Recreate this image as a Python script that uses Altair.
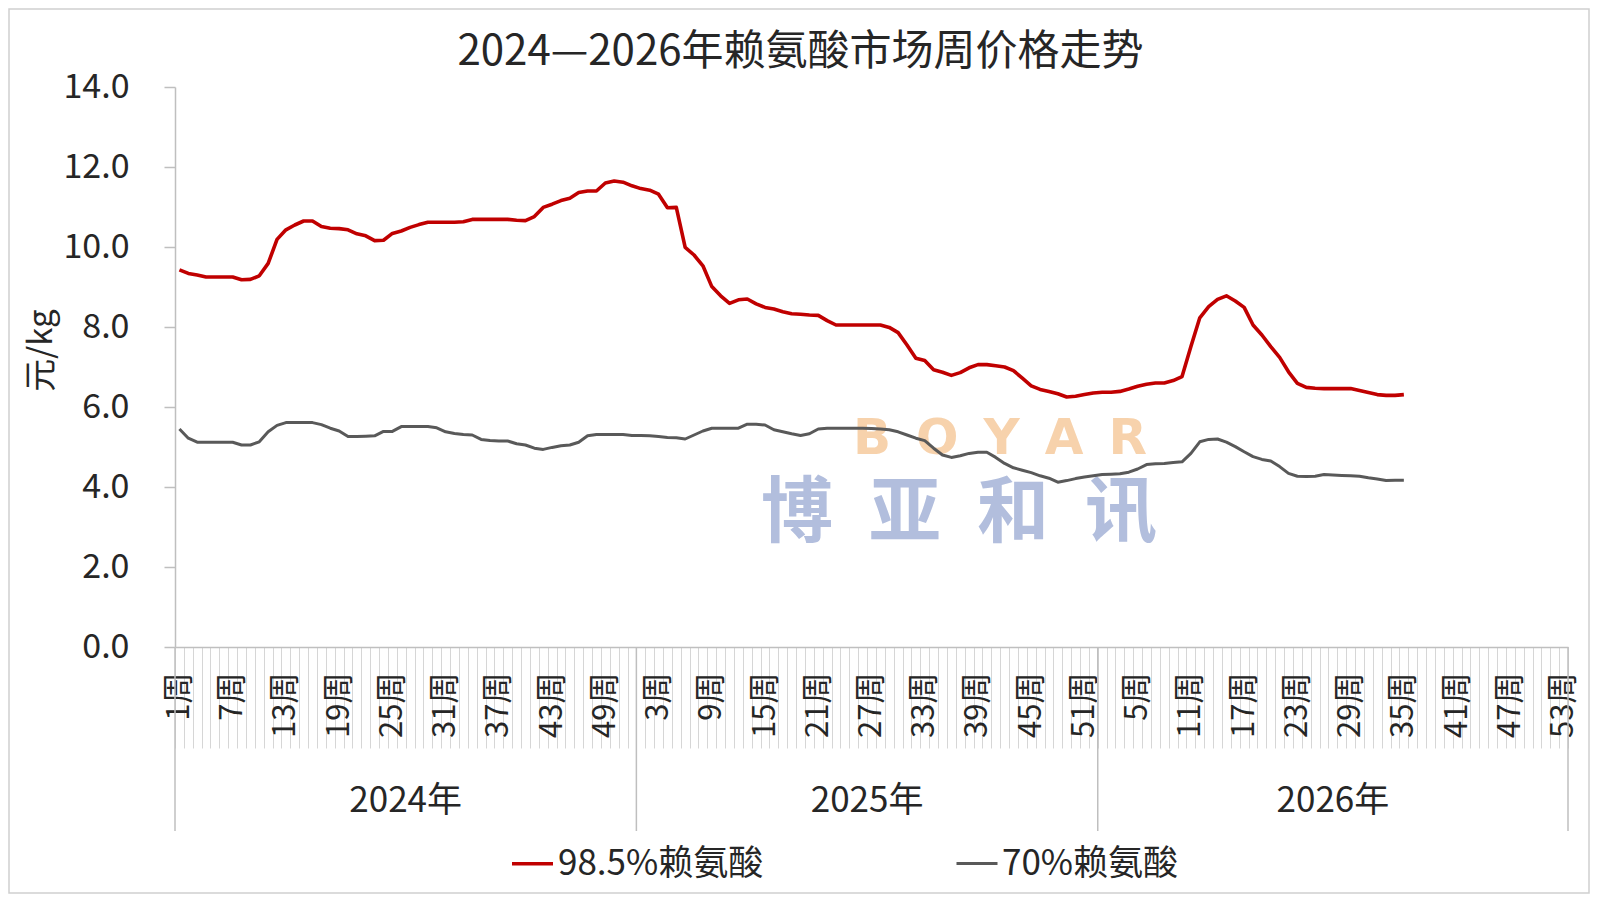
import altair as alt
import pandas as pd

FONT = "Noto Sans CJK SC"
TXT = "#262626"

title_text = "2024—2026年赖氨酸市场周价格走势"
years = ["2024年", "2025年", "2026年"]
weeks_per_year = [52, 52, 53]
series_names = ["98.5%赖氨酸", "70%赖氨酸"]
series_colors = ["#C00000", "#595959"]
y_ticks = [0, 2, 4, 6, 8, 10, 12, 14]

lys985 = [
    9.43, 9.34, 9.30, 9.25, 9.25, 9.25, 9.25, 9.18, 9.19, 9.28,
    9.59, 10.19, 10.43, 10.55, 10.65, 10.65, 10.51, 10.47, 10.46, 10.43,
    10.33, 10.28, 10.16, 10.17, 10.34, 10.40, 10.49, 10.56, 10.62, 10.62,
    10.62, 10.62, 10.63, 10.69, 10.69, 10.69, 10.69, 10.69, 10.67, 10.66,
    10.76, 10.99, 11.07, 11.16, 11.22, 11.36, 11.40, 11.40, 11.60, 11.65,
    11.62, 11.53, 11.46, 11.42, 11.32, 10.98, 10.99, 9.99, 9.80, 9.53,
    9.01, 8.78, 8.59, 8.68, 8.70, 8.58, 8.49, 8.45, 8.38, 8.33,
    8.32, 8.30, 8.29, 8.16, 8.05, 8.05, 8.05, 8.05, 8.05, 8.05,
    7.99, 7.86, 7.55, 7.22, 7.16, 6.93, 6.87, 6.79, 6.86, 6.98,
    7.06, 7.06, 7.03, 7.00, 6.91, 6.72, 6.53, 6.44, 6.39, 6.33,
    6.25, 6.27, 6.31, 6.35, 6.37, 6.37, 6.39, 6.45, 6.52, 6.57,
    6.60, 6.60, 6.66, 6.76, 7.51, 8.23, 8.51, 8.69, 8.78, 8.65,
    8.49, 8.05, 7.80, 7.51, 7.24, 6.88, 6.59, 6.49, 6.47, 6.46,
    6.46, 6.46, 6.46, 6.41, 6.36, 6.31, 6.29, 6.29, 6.31,
]

lys70 = [
    5.45, 5.22, 5.12, 5.12, 5.12, 5.12, 5.12, 5.05, 5.05, 5.13,
    5.38, 5.54, 5.61, 5.61, 5.61, 5.61, 5.56, 5.47, 5.40, 5.26,
    5.26, 5.27, 5.28, 5.39, 5.39, 5.51, 5.51, 5.51, 5.51, 5.48,
    5.38, 5.34, 5.31, 5.30, 5.19, 5.16, 5.15, 5.15, 5.08, 5.05,
    4.97, 4.94, 4.99, 5.03, 5.05, 5.12, 5.28, 5.31, 5.31, 5.31,
    5.31, 5.29, 5.29, 5.28, 5.26, 5.24, 5.23, 5.20, 5.30, 5.40,
    5.47, 5.47, 5.47, 5.47, 5.57, 5.57, 5.55, 5.43, 5.38, 5.33,
    5.29, 5.33, 5.45, 5.47, 5.47, 5.47, 5.47, 5.47, 5.46, 5.45,
    5.43, 5.38, 5.30, 5.22, 5.16, 4.97, 4.80, 4.74, 4.78, 4.84,
    4.87, 4.87, 4.74, 4.59, 4.48, 4.42, 4.36, 4.28, 4.22, 4.12,
    4.16, 4.21, 4.25, 4.28, 4.31, 4.32, 4.33, 4.37, 4.45, 4.56,
    4.58, 4.59, 4.61, 4.63, 4.84, 5.13, 5.19, 5.20, 5.12, 5.01,
    4.88, 4.76, 4.69, 4.65, 4.51, 4.34, 4.27, 4.26, 4.27, 4.31,
    4.30, 4.29, 4.28, 4.27, 4.23, 4.20, 4.16, 4.17, 4.17,
]

# ---- derived tables ----
n_total = sum(weeks_per_year)
week_idx = list(range(n_total))
year_start = [sum(weeks_per_year[:k]) for k in range(len(years))]

n = len(lys985)
df = pd.DataFrame({
    "idx": list(range(n)) * 2,
    "value": lys985 + lys70,
    "series": [series_names[0]] * n + [series_names[1]] * n,
})

# label expression: week number inside its year, every 6th category
wk = "(datum.value < %d ? datum.value + 1 : (datum.value < %d ? datum.value - %d : datum.value - %d))" % (
    year_start[1], year_start[2], year_start[1] - 1, year_start[2] - 1)
label_expr = "datum.value %% 6 == 0 ? %s + '周' : ''" % wk

W, H = 1393, 560

xscale = alt.Scale(type="band", domain=week_idx, paddingInner=0, paddingOuter=0)
xaxis = alt.Axis(
    title=None, labelExpr=label_expr, labelAngle=270, labelAlign="right",
    labelBaseline="middle", labelPadding=-76, labelFontSize=31, labelFont=FONT,
    labelColor=TXT, tickBand="extent", tickSize=101, tickColor="#d6d6d6",
    tickWidth=1, domainColor="#bfbfbf", domainWidth=1.5, grid=False,
)
yaxis = alt.Axis(
    values=y_ticks, format=".1f", title="元/kg", titleFontSize=33, titleFont=FONT,
    titleFontWeight="normal", titleColor=TXT, titleAngle=270, titleX=-134,
    titleY=263, titleAlign="center", titleBaseline="middle",
    labelFontSize=34, labelFont=FONT, labelColor=TXT, labelPadding=35,
    tickSize=11, tickColor="#bfbfbf", tickWidth=1.5,
    domainColor="#bfbfbf", domainWidth=1.5, grid=False,
)


def xenc(band):
    return alt.X("idx:O", scale=xscale, axis=xaxis, bandPosition=band)


legend = alt.Legend(
    title=None, orient="none", legendX=335, legendY=754, direction="horizontal",
    symbolType="stroke", symbolSize=1681, symbolStrokeWidth=3,
    labelFontSize=35, labelFont=FONT, labelColor=TXT, labelOffset=3,
    columnPadding=186, padding=0, labelLimit=0,
)

lines = alt.Chart(df).mark_line(strokeJoin="round").encode(
    x=xenc(0.5),
    y=alt.Y("value:Q", scale=alt.Scale(domain=[0, 14], nice=False), axis=yaxis),
    color=alt.Color("series:N", scale=alt.Scale(domain=series_names, range=series_colors),
                    legend=legend, sort=series_names),
    strokeWidth=alt.StrokeWidth("series:N", scale=alt.Scale(domain=series_names, range=[3.6, 3.0]),
                                legend=None),
)

# year separators (long ticks) at the start of each year and at the end
sep_df = pd.DataFrame({"idx": year_start})
seps = alt.Chart(sep_df).mark_rule(color="#bfbfbf", strokeWidth=1.5).encode(
    x=xenc(0), y=alt.value(H), y2=alt.value(H + 184))
sep_end = alt.Chart(pd.DataFrame({"idx": [n_total - 1]})).mark_rule(
    color="#bfbfbf", strokeWidth=1.5).encode(x=xenc(1), y=alt.value(H), y2=alt.value(H + 184))

# year group labels centred under each group
even_rows, odd_rows = [], []
for y, s, w in zip(years, year_start, weeks_per_year):
    if w % 2 == 0:
        even_rows.append({"idx": s + w // 2, "year": y})
    else:
        odd_rows.append({"idx": s + w // 2, "year": y})
ylab_even = alt.Chart(pd.DataFrame(even_rows)).mark_text(
    font=FONT, fontSize=35, color=TXT, baseline="middle", align="center").encode(
    x=xenc(0), y=alt.value(714), text="year:N")
ylab_odd = alt.Chart(pd.DataFrame(odd_rows)).mark_text(
    font=FONT, fontSize=35, color=TXT, baseline="middle", align="center").encode(
    x=xenc(0.5), y=alt.value(714), text="year:N")

# watermark
wm1 = alt.Chart(pd.DataFrame({"t": ["B\u2002O\u2002Y\u2002A\u2002R"]})).mark_text(
    font="DejaVu Sans", fontSize=50, fontWeight="bold", color="#F7D2AC",
    align="center", baseline="middle").encode(
    x=alt.value(825), y=alt.value(352), text="t:N")
wm2 = alt.Chart(pd.DataFrame({"t": ["博\u2002亚\u2002和\u2002讯"]})).mark_text(
    font=FONT, fontSize=72, fontWeight="bold", color="#B2BEDD",
    align="center", baseline="middle").encode(
    x=alt.value(784), y=alt.value(427), text="t:N")

border = alt.Chart(pd.DataFrame({"a": [0]})).mark_rect(
    fillOpacity=0, stroke="#d0d0d0", strokeWidth=1.5).encode(
    x=alt.value(-166), x2=alt.value(1414), y=alt.value(-78), y2=alt.value(806))

chart = alt.layer(border, wm1, wm2, seps, sep_end, ylab_even, ylab_odd, lines).properties(
    width=W, height=H,
    title=alt.TitleParams(text=title_text, font=FONT, fontSize=42, fontWeight="normal",
                          color=TXT, anchor="middle", frame="group", dx=-71,
                          baseline="middle", offset=-86),
    autosize=alt.AutoSizeParams(type="none"),
    padding={"left": 167, "top": 79, "right": 22, "bottom": 247},
).configure_view(stroke=None)

chart.save("out.html", embed_options={"renderer": "svg", "actions": False})
